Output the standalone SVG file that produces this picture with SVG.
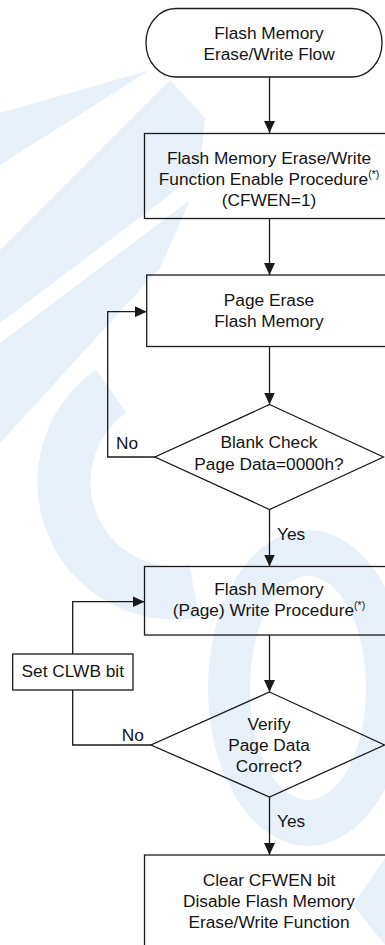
<svg xmlns="http://www.w3.org/2000/svg" width="385" height="945" viewBox="0 0 385 945">
<defs>
<style>
.wm{fill:#e8f1fa;stroke:none}
.wms{fill:none;stroke:#e8f1fa}
.box{fill:none;stroke:#1a1a1a;stroke-width:1.3}
.ln{fill:none;stroke:#1a1a1a;stroke-width:1.3}
.t{font-family:"Liberation Sans",Arial,sans-serif;font-size:17.3px;fill:#151515;text-anchor:middle}
.l{font-family:"Liberation Sans",Arial,sans-serif;font-size:17.3px;fill:#151515;text-anchor:start}
.sup{font-size:10.5px}
</style>
<marker id="ah" markerUnits="userSpaceOnUse" markerWidth="12" markerHeight="11" refX="12" refY="5.5" orient="auto">
<path d="M0,0 L12,5.5 L0,11 Z" fill="#1a1a1a"/>
</marker>
</defs>
<rect width="385" height="945" fill="#ffffff"/>
<g id="watermark">
<polygon class="wm" points="0,113 150,70 0,165"/>
<polygon class="wm" points="0,250 170,80 205,118 200,172 0,323"/>
<polygon class="wm" points="0,343 190,200 160,268 0,443"/>
<path class="wms" stroke-width="53" d="M111.3,391.1 A111,111 0 0 0 194.3,591.3"/>
<path class="wm" fill-rule="evenodd" d="M208,688 A100,158 0 1 0 408,688 A100,158 0 1 0 208,688 Z M250,688 A58,112 0 1 0 366,688 A58,112 0 1 0 250,688 Z"/>
<polygon class="wm" points="385,858 353,905 385,945"/>
</g>
<g id="connectors">
<line class="ln" x1="269.5" y1="77" x2="269.5" y2="133" marker-end="url(#ah)"/>
<line class="ln" x1="269.5" y1="218.5" x2="269.5" y2="275" marker-end="url(#ah)"/>
<line class="ln" x1="269.5" y1="346.5" x2="269.5" y2="404.5" marker-end="url(#ah)"/>
<polyline class="ln" points="155,457 107.7,457 107.7,311.7 146.7,311.7" marker-end="url(#ah)"/>
<line class="ln" x1="269.5" y1="509.5" x2="269.5" y2="566.5" marker-end="url(#ah)"/>
<line class="ln" x1="269.5" y1="635" x2="269.5" y2="692" marker-end="url(#ah)"/>
<polyline class="ln" points="151,745 72.7,745 72.7,690"/>
<polyline class="ln" points="72.7,654 72.7,601.7 144.5,601.7" marker-end="url(#ah)"/>
<line class="ln" x1="269.5" y1="797" x2="269.5" y2="855" marker-end="url(#ah)"/>
<text class="l" x="116" y="448.5">No</text>
<text class="l" x="277" y="540">Yes</text>
<text class="l" x="121.7" y="740.7">No</text>
<text class="l" x="277" y="826.7">Yes</text>
</g>
<g id="start">
<rect class="box" x="146" y="8.5" width="236" height="68.5" rx="30" ry="34"/>
<text class="t" x="269" y="39">Flash Memory</text>
<text class="t" x="269" y="60">Erase/Write Flow</text>
</g>
<g id="enable">
<rect class="box" x="144.5" y="133.5" width="251" height="85"/>
<text class="t" x="269" y="163.5">Flash Memory Erase/Write</text>
<text class="t" x="269" y="184.5">Function Enable Procedure<tspan class="sup" dy="-7">(*)</tspan></text>
<text class="t" x="269" y="205.5">(CFWEN=1)</text>
</g>
<g id="erase">
<rect class="box" x="146.7" y="275" width="250" height="71.5"/>
<text class="t" x="269" y="305.5">Page Erase</text>
<text class="t" x="269" y="327">Flash Memory</text>
</g>
<g id="blank-check">
<polygon class="box" points="269.5,404.5 383.5,457 269.5,509.5 155,457"/>
<text class="t" x="269" y="448.3">Blank Check</text>
<text class="t" x="269" y="469.5">Page Data=0000h?</text>
</g>
<g id="write">
<rect class="box" x="144.5" y="566.5" width="251" height="68.5"/>
<text class="t" x="269" y="595">Flash Memory</text>
<text class="t" x="269" y="616">(Page) Write Procedure<tspan class="sup" dy="-7">(*)</tspan></text>
</g>
<g id="set-clwb">
<rect class="box" x="12.7" y="654" width="120.3" height="36"/>
<text class="t" x="72.8" y="676.7">Set CLWB bit</text>
</g>
<g id="verify">
<polygon class="box" points="269.5,692 384.5,745 269.5,797 151,745"/>
<text class="t" x="269" y="730">Verify</text>
<text class="t" x="269" y="751">Page Data</text>
<text class="t" x="269" y="772">Correct?</text>
</g>
<g id="disable">
<rect class="box" x="144.5" y="855" width="251" height="110"/>
<text class="t" x="269" y="886">Clear CFWEN bit</text>
<text class="t" x="269" y="907">Disable Flash Memory</text>
<text class="t" x="269" y="927.5">Erase/Write Function</text>
</g>
</svg>
